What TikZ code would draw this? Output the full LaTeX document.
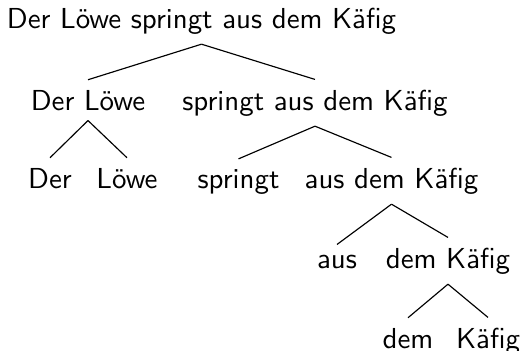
\documentclass[tikz,border=0pt]{standalone}
\usepackage{fontspec}
\begin{document}
\begin{tikzpicture}[x=0.346pt, y=-0.346pt,
  every node/.style={font=\sffamily, anchor=base},
  edge/.style={draw, line width=0.4pt}]
\useasboundingbox (0,0) rectangle (523,350);
% constituent tree of the sentence
\node (s)    at (201.5,28) {Der Löwe springt aus dem Käfig};
\node (np)   at (88,110)   {Der Löwe};
\node (vp)   at (315,110)  {springt aus dem Käfig};
\node (det)  at (50,188)   {Der};
\node (n)    at (127,188)  {Löwe};
\node (v)    at (238.5,188){springt};
\node (pp)   at (391.5,188){aus dem Käfig};
\node (p)    at (337,268)  {aus};
\node (dp)   at (448,268)  {dem Käfig};
\node (det2) at (408,348)  {dem};
\node (n2)   at (488,348)  {Käfig};
\foreach \a/\b in {s/np, s/vp, np/det, np/n, vp/v, vp/pp, pp/p, pp/dp, dp/det2, dp/n2}
  \draw[edge] (\a.south) -- (\b.north);
\end{tikzpicture}
\end{document}
